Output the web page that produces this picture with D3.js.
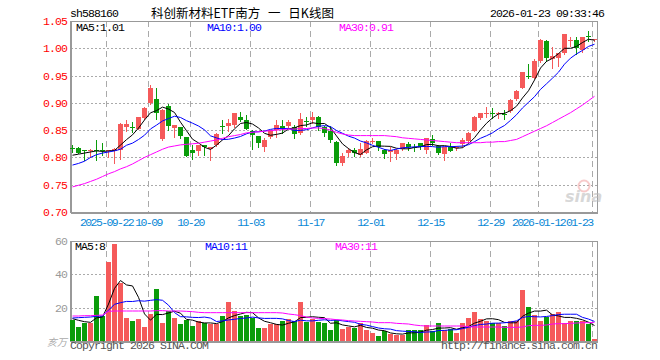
<!DOCTYPE html>
<html><head><meta charset="utf-8">
<script src="https://cdn.jsdelivr.net/npm/d3@7"></script>
<style>
html,body{margin:0;padding:0;background:#fff;}
svg{display:block;}
</style></head>
<body>
<svg id="chart" width="660" height="360"></svg>
<script>
// ---------- DATA ----------
const dates = ["2025-09-12","2025-09-15","2025-09-16","2025-09-17","2025-09-18","2025-09-19","2025-09-22","2025-09-23","2025-09-24","2025-09-25","2025-09-26","2025-09-29","2025-09-30",
"2025-10-09","2025-10-10","2025-10-13","2025-10-14","2025-10-15","2025-10-16","2025-10-17","2025-10-20","2025-10-21","2025-10-22","2025-10-23","2025-10-24","2025-10-27","2025-10-28","2025-10-29","2025-10-30","2025-10-31",
"2025-11-03","2025-11-04","2025-11-05","2025-11-06","2025-11-07","2025-11-10","2025-11-11","2025-11-12","2025-11-13","2025-11-14","2025-11-17","2025-11-18","2025-11-19","2025-11-20","2025-11-21","2025-11-24","2025-11-25","2025-11-26","2025-11-27","2025-11-28",
"2025-12-01","2025-12-02","2025-12-03","2025-12-04","2025-12-05","2025-12-08","2025-12-09","2025-12-10","2025-12-11","2025-12-12","2025-12-15","2025-12-16","2025-12-17","2025-12-18","2025-12-19","2025-12-22","2025-12-23","2025-12-24","2025-12-25","2025-12-26","2025-12-29","2025-12-30","2025-12-31",
"2026-01-05","2026-01-06","2026-01-07","2026-01-08","2026-01-09","2026-01-12","2026-01-13","2026-01-14","2026-01-15","2026-01-16","2026-01-19","2026-01-20","2026-01-21","2026-01-22","2026-01-23"];

const opens  = [.817,.818,.813,.811,.813,.813,.811,.812,.814,.856,.856,.853,.873,.899,.907,.834,.894,.854,.855,.837,
.814,.812,.822,.815,.823,.857,.857,.859,.875,.868,.849,.839,.820,.838,.851,.857,.857,.855,.844,.866,
.868,.874,.856,.849,.829,.789,.809,.814,.805,.808,.830,.830,.814,.810,.807,.815,.825,.819,.826,.814,
.833,.821,.806,.819,.817,.824,.830,.849,.873,.880,.882,.879,.880,.885,.907,.928,.949,.946,.976,1.014,
.980,.982,.991,1.014,1.015,.997,1.022,1.015];
const highs  = [.823,.820,.814,.816,.832,.827,.814,.818,.863,.869,.865,.875,.892,.933,.927,.889,.898,.859,.855,.837,
.822,.823,.823,.820,.844,.868,.871,.881,.883,.878,.850,.839,.835,.851,.869,.869,.869,.859,.882,.874,
.884,.876,.857,.857,.831,.809,.818,.817,.827,.832,.835,.830,.815,.819,.815,.827,.829,.824,.827,.836,
.841,.822,.820,.827,.821,.835,.846,.876,.882,.893,.891,.884,.887,.907,.923,.957,.971,.980,1.017,1.015,
1.003,.991,1.026,1.021,1.020,1.021,1.032,1.017];
const lows   = [.810,.808,.796,.801,.795,.805,.800,.789,.797,.849,.847,.852,.871,.898,.870,.832,.850,.837,.835,.802,
.798,.805,.805,.796,.821,.844,.849,.855,.866,.852,.815,.820,.811,.836,.838,.844,.856,.835,.843,.857,
.863,.851,.839,.829,.787,.787,.802,.803,.803,.808,.826,.813,.799,.793,.797,.814,.813,.811,.815,.808,
.823,.806,.796,.811,.814,.820,.828,.848,.870,.875,.872,.872,.871,.884,.906,.927,.945,.945,.974,.976,
.963,.968,.989,1.005,.989,.994,1.013,1.014];
const closes = [.816,.809,.811,.813,.811,.811,.813,.816,.862,.861,.855,.875,.890,.928,.881,.887,.857,.859,.839,.803,
.809,.823,.819,.819,.843,.856,.863,.881,.868,.852,.842,.827,.832,.850,.860,.854,.865,.843,.870,.865,
.875,.856,.845,.832,.789,.802,.813,.808,.815,.831,.831,.820,.806,.813,.814,.826,.820,.818,.819,.835,
.827,.808,.819,.811,.819,.832,.845,.874,.881,.881,.881,.882,.879,.905,.922,.957,.948,.977,1.015,.983,
.985,.991,1.026,1.015,1.000,1.021,1.021,1.017];
// volume, 万手
const volumes = [12.4,8.2,11,11,26.8,14.8,47.2,58,34.6,13.6,11.8,13,8.2,16,31,11,17.8,13.6,10,12.4,
8.8,12,11,10,10.4,14.8,23.2,17.8,14.8,15.4,13.8,7.6,7.6,10.4,10.4,11.8,13,11.8,23.2,11.4,
13.4,11.4,10.6,6.4,12.8,7,8.4,7.8,11,6.4,4.8,2.8,6,4.2,3.8,3.8,6.4,6.4,6.4,9.4,
5.8,10.6,6.8,7.4,4.6,10.6,13.8,17.2,13,11.8,11,11,9,11.8,11.8,30.6,20.2,15.4,11.8,14.6,
16.2,17.2,11,11.8,11.8,11.8,10,1];

const priceMa5Start  = [.804,.806,.808,.810];
const priceMa10Start = [.786,.789,.793,.800,.805,.808,.810,.812,.815];
const priceMa30 = [.746,.749,.752,.756,.760,.765,.770,.774,.779,.783,.788,.794,.800,.805,.810,.815,.819,.821,.823,.824,
.825,.826,.828,.830,.832,.835,.838,.840,.842,.845,.846,.847,.848,.849,.850,.851,.852,.852,.853,.853,
.854,.854,.853,.850,.846,.843,.841,.840,.840,.840,.840,.840,.840,.839,.838,.836,.835,.834,.833,.832,
.831,.830,.829,.828,.827,.827,.827,.827,.827,.828,.828,.829,.829,.831,.833,.838,.843,.848,.853,.858,
.864,.870,.876,.882,.889,.896,.904,.912];
const volMa5Start  = [13.4,12.4,11.6,11.2];
const volMa10Start = [13.8,14,14.2,14.4,14.8,15,18.5,22,23];
const volMa30 = [15,15,15.2,15.2,15.4,15.6,17.8,18,18,18,18,18,18,18,18.2,18.2,18,18,18,17.8,
17.6,17.2,17,17,17,17,17,17,17,17,17,17,17,17,17,16.8,16.2,15.8,15.2,14.4,
13.8,13.6,13.4,13.2,12.8,12.6,12.2,12,11.8,11.6,11.4,11,11,11,10.6,10.4,10.2,9.6,9.2,9,
9,9,9,9,9,9,8.6,8.4,8.4,8.4,8.4,8.4,8.2,8.2,8.2,8.4,9.2,9.4,9.4,9.6,
10.2,10.4,10.4,10.6,10.8,11,11,11.2];

const priceTicks = [0.70,0.75,0.80,0.85,0.90,0.95,1.00,1.05];
const priceTickLabels = ["0.70","0.75","0.80","0.85","0.90","0.95","1.00","1.05"];
const volTicks = [20,40,60];
const volTickLabels = ["20","40","60"];
const dateTicks = ["2025-09-22","2025-10-09","2025-10-20","2025-11-03","2025-11-17","2025-12-01","2025-12-15","2025-12-29","2026-01-12","2026-01-23"];
const dateTickLabels = ["2025-09-22","10-09","10-20","11-03","11-17","12-01","12-15","12-29","2026-01-12","01-23"];

const titleCode = "sh588160";
const titleName = "科创新材料ETF南方 一 日K线图";
const titleTime = "2026-01-23 09:33:46";
const priceLegend = ["MA5:1.01","MA10:1.00","MA30:0.91"];
const volLegend = ["MA5:8","MA10:11","MA30:11"];
const volUnit = "亥万";

// ---------- DRAW ----------
const UP = "#f55a5a", DOWN = "#0a9c0a";
const MA_COLORS = ["#000000","#0000ff","#ff00ff"];
const MONO = "'Liberation Mono','DejaVu Sans Mono',monospace";
const svg = d3.select("#chart");
svg.append("rect").attr("width",660).attr("height",360).attr("fill","#fff");

const x = d3.scaleBand().domain(dates).range([69.5, 597.5]).padding(0);
const cx = d => x(d) + x.bandwidth()/2;
const yP = d3.scaleLinear().domain([0.70,1.05]).range([212,21]);
const yV = d3.scaleLinear().domain([0,60]).range([341,241]);
const L = 70.5, R = 597.5;

function ma(vals, n, start){
  return vals.map((v,i)=> i < n-1 ? start[i] : d3.mean(vals.slice(i-n+1,i+1)));
}

function monoText(g, xx, yy, txt, color, anchor, ls){
  return g.append("text").attr("x",xx).attr("y",yy).text(txt)
    .attr("fill",color).attr("font-family",MONO).attr("font-size","11.5px")
    .attr("letter-spacing", (ls===undefined?-0.9:ls)+"px").attr("text-anchor",anchor||"start");
}

// header
monoText(svg, 70, 17, titleCode, "#000");
svg.append("text").attr("x",151).attr("y",18).text(titleName)
  .attr("font-family","'Noto Sans CJK SC',sans-serif").attr("font-size","12.5px").attr("fill","#000")
  .attr("word-spacing","5px").style("white-space","pre");
monoText(svg, 604, 17, titleTime, "#000", "end");

function panel(yScale, hTicks, top, bottom){
  const g = svg.append("g").attr("shape-rendering","crispEdges");
  g.selectAll(".hg").data(hTicks).join("line")
    .attr("x1",L).attr("x2",R)
    .attr("y1",d=>Math.round(yScale(d))+0.5).attr("y2",d=>Math.round(yScale(d))+0.5)
    .attr("stroke","#aaa").attr("stroke-dasharray","2,2");
  g.selectAll(".vg").data(dateTicks).join("line")
    .attr("x1",d=>x(d)+1).attr("x2",d=>x(d)+1)
    .attr("y1",top).attr("y2",bottom)
    .attr("stroke","#aaa").attr("stroke-dasharray","6,4");
  g.append("rect").attr("x",L).attr("y",top+0.5).attr("width",R-L).attr("height",bottom-top)
    .attr("fill","none").attr("stroke","#999").attr("stroke-width",1);
  g.append("line").attr("x1",L).attr("x2",L).attr("y1",top).attr("y2",bottom+1)
    .attr("stroke","#999").attr("stroke-width",2);
  g.append("line").attr("x1",L).attr("x2",R).attr("y1",bottom+0.5).attr("y2",bottom+0.5)
    .attr("stroke","#999").attr("stroke-width",2);
  return g;
}

// ----- price panel -----
panel(yP, priceTicks.slice(1,-1), 21, 212);

// sina watermark
const wm = svg.append("g").attr("opacity",0.55);
wm.append("circle").attr("cx",584).attr("cy",186).attr("r",5.5).attr("fill","none").attr("stroke","#f2a0a0").attr("stroke-width",2);
wm.append("text").attr("x",565).attr("y",202).text("sina").attr("font-family","'DejaVu Sans',sans-serif")
  .attr("font-style","italic").attr("font-weight","bold").attr("font-size","16px").attr("fill","#b8b8b8");

// price axis labels
priceTicks.forEach((t,i)=>{
  monoText(svg, 67, yP(t)+4, priceTickLabels[i], "#ff0000", "end");
});

// candles
const cg = svg.append("g").attr("shape-rendering","crispEdges");
dates.forEach((d,i)=>{
  const o=opens[i], c=closes[i], up = c>=o;
  const col = up?UP:DOWN;
  const xc = Math.round(cx(d))-0.5;
  cg.append("line").attr("x1",xc).attr("x2",xc)
    .attr("y1",Math.round(yP(highs[i]))).attr("y2",Math.round(yP(lows[i]))+1)
    .attr("stroke",col).attr("stroke-width",1);
  const top = Math.round(yP(Math.max(o,c))), bot = Math.round(yP(Math.min(o,c)));
  cg.append("rect").attr("x",Math.round(x(d))).attr("width",5)
    .attr("y",top).attr("height",Math.max(1,bot-top))
    .attr("fill",col);
});

// price MAs
const pMa = [ma(closes,5,priceMa5Start), ma(closes,10,priceMa10Start), priceMa30];
pMa.forEach((arr,k)=>{
  svg.append("path").datum(arr)
    .attr("d", d3.line().x((v,i)=>cx(dates[i])).y(v=>yP(v)))
    .attr("fill","none").attr("stroke",MA_COLORS[k]).attr("stroke-width",1);
});
[76,207,339].forEach((xx,k)=> monoText(svg, xx, 31, priceLegend[k], MA_COLORS[k]));

// date labels (slightly condensed so neighbouring labels only touch)
dateTicks.forEach((d,i)=>{
  const gx = x(d)+1;
  const lbl = dateTickLabels[i];
  const w = lbl.length*6;
  if (gx + w/2 > R) monoText(svg, gx, 226, lbl, "#0a88d6", "end", -1.6);
  else monoText(svg, gx, 226, lbl, "#0a88d6", "middle", -1.6);
});

// ----- volume panel -----
panel(yV, volTicks.slice(0,-1), 241, 341);
volTicks.forEach((t,i)=> monoText(svg, 67, yV(t)+4, volTickLabels[i], "#999", "end"));
svg.append("text").attr("x",67).attr("y",346).text(volUnit).attr("text-anchor","end")
  .attr("font-family","'Noto Sans CJK SC',sans-serif").attr("font-size","10px").attr("fill","#aaa").attr("font-style","italic");

const vg = svg.append("g").attr("shape-rendering","crispEdges");
vg.selectAll("rect").data(dates).join("rect")
  .attr("x",d=>Math.round(x(d)))
  .attr("width",5)
  .attr("y",(d,i)=>Math.round(yV(volumes[i])))
  .attr("height",(d,i)=>Math.max(1, Math.round(yV(0)) - Math.round(yV(volumes[i]))))
  .attr("fill",(d,i)=> closes[i]>=opens[i]?UP:DOWN);

const vMa = [ma(volumes,5,volMa5Start), ma(volumes,10,volMa10Start), volMa30];
vMa.forEach((arr,k)=>{
  svg.append("path").datum(arr)
    .attr("d", d3.line().x((v,i)=>cx(dates[i])).y(v=>yV(v)))
    .attr("fill","none").attr("stroke",MA_COLORS[k]).attr("stroke-width",1);
});
[75,205,335].forEach((xx,k)=> monoText(svg, xx, 250, volLegend[k], MA_COLORS[k]));

// footer
monoText(svg, 70, 349, "Copyright 2026 SINA.COM", "#555");
monoText(svg, 597, 349, "http://finance.sina.com.cn", "#555", "end");
</script>
</body></html>
